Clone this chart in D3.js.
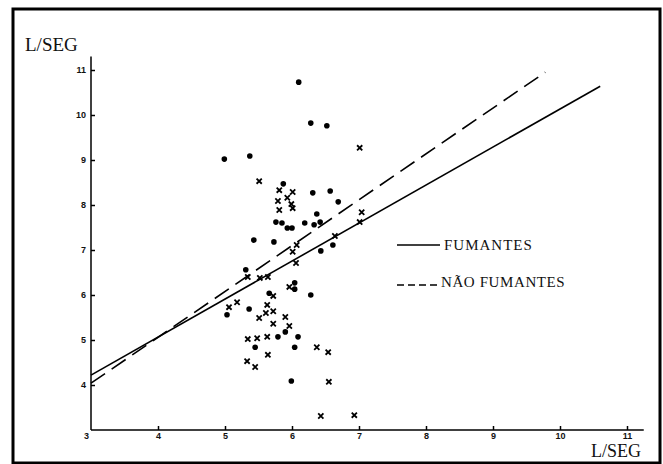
<!DOCTYPE html>
<html lang="pt">
<head>
	<meta charset="UTF-8">
	<title>L/SEG</title>
	<script src="https://d3js.org/d3.v7.min.js"></script>
	<style>
		body { margin: 0; background: #fff; }
		svg text { fill: #111; }
	</style>
</head>
<body>
	<div id="main"></div>
<script>
	// tick labels
	var xTicks = [3, 4, 5, 6, 7, 8, 9, 10, 11];
	var yTicks = [4, 5, 6, 7, 8, 9, 10, 11];

	// filled dots
	var dotX = [6.10, 6.28, 6.52, 4.99, 5.37, 5.87, 6.31, 6.57, 6.69, 6.37, 5.76, 5.85, 5.93, 6.00,
		6.19, 6.33, 6.42, 5.43, 5.73, 6.43, 6.61, 5.31, 5.66, 6.04, 6.04, 6.28, 5.36, 5.03,
		5.90, 5.79, 6.09, 5.45, 6.04, 5.99];
	var dotY = [10.73, 9.82, 9.76, 9.02, 9.09, 8.47, 8.27, 8.31, 8.07, 7.80, 7.62, 7.60, 7.49, 7.49,
		7.60, 7.56, 7.62, 7.22, 7.18, 6.98, 7.11, 6.56, 6.04, 6.13, 6.27, 6.00, 5.69, 5.56,
		5.18, 5.07, 5.07, 4.84, 4.84, 4.09];

	// crosses
	var crossX = [7.01, 5.51, 5.81, 6.01, 5.79, 5.93, 5.99, 6.01, 5.81, 7.04, 7.01, 6.64, 6.07, 6.01,
		6.06, 5.34, 5.52, 5.64, 5.72, 5.96, 5.06, 5.18, 5.63, 5.61, 5.72, 5.51, 5.90, 5.72,
		5.96, 5.34, 5.48, 5.63, 6.37, 6.54, 5.64, 5.33, 5.45, 6.55, 6.43, 6.93];
	var crossY = [9.27, 8.53, 8.33, 8.29, 8.09, 8.16, 8.02, 7.93, 7.89, 7.84, 7.62, 7.31, 7.11, 6.96,
		6.71, 6.40, 6.38, 6.40, 5.98, 6.18, 5.73, 5.84, 5.78, 5.60, 5.64, 5.49, 5.51, 5.36,
		5.31, 5.02, 5.04, 5.07, 4.84, 4.73, 4.67, 4.53, 4.40, 4.07, 3.31, 3.33];

	// regression lines, end points
	var fumantes = [[3, 4.22], [10.6, 10.64]];
	var naoFumantes = [[3, 4.04], [9.78, 10.95]];

	var width = 663, height = 464;

	var svg = d3.select("#main")
		.append("svg")
		.attr("width", width)
		.attr("height", height);

	// frame
	svg.append("rect")
		.attr("x", 13).attr("y", 9)
		.attr("width", 647).attr("height", 454)
		.attr("fill", "none")
		.attr("stroke", "#000")
		.attr("stroke-width", 3);

	var x = d3.scaleLinear().domain([3, 11]).range([91, 627]);
	var y = d3.scaleLinear().domain([3, 11]).range([430, 70]);

	var axisFont = "bold 9px 'Liberation Sans', sans-serif";

	// axes lines
	svg.append("line")
		.attr("x1", x(3)).attr("x2", x(3))
		.attr("y1", y(3)).attr("y2", y(11.3))
		.attr("stroke", "#000").attr("stroke-width", 1.5);
	svg.append("line")
		.attr("x1", x(3)).attr("x2", x(11.25))
		.attr("y1", y(3)).attr("y2", y(3))
		.attr("stroke", "#000").attr("stroke-width", 1.5);

	var yAxis = svg.append("g")
		.attr("transform", "translate(" + x(3) + ",0)")
		.call(d3.axisLeft(y).tickValues(yTicks).tickSizeInner(-4).tickSizeOuter(0).tickPadding(5));
	yAxis.select(".domain").remove();
	yAxis.selectAll("text").style("font", axisFont);
	yAxis.selectAll("line").attr("stroke-width", 1.5);

	var xAxis = svg.append("g")
		.attr("transform", "translate(0," + y(3) + ")")
		.call(d3.axisBottom(x).tickValues(xTicks).tickSizeInner(-4).tickSizeOuter(0).tickPadding(3));
	xAxis.select(".domain").remove();
	xAxis.selectAll("text").style("font", axisFont);
	xAxis.selectAll("line").attr("stroke-width", 1.5);
	xAxis.selectAll(".tick").filter(function(d){ return d == 3; }).select("line").remove();
	xAxis.selectAll(".tick").filter(function(d){ return d == 3; }).select("text").attr("x", -5);

	// axis titles
	svg.append("text")
		.attr("x", 25).attr("y", 51)
		.style("font", "19px 'Liberation Serif', serif")
		.text("L/SEG");
	svg.append("text")
		.attr("x", 591).attr("y", 457)
		.style("font", "18px 'Liberation Serif', serif")
		.text("L/SEG");

	// regression lines
	var line = d3.line().x(function(d){ return x(d[0]); }).y(function(d){ return y(d[1]); });
	svg.append("path")
		.attr("d", line(fumantes))
		.attr("fill", "none").attr("stroke", "#000").attr("stroke-width", 1.6);
	svg.append("path")
		.attr("d", line(naoFumantes))
		.attr("fill", "none").attr("stroke", "#000").attr("stroke-width", 1.6)
		.attr("stroke-dasharray", "17,8");

	// points
	var dots = dotX.map(function(v, i){ return [v, dotY[i]]; });
	svg.selectAll("circle.dot")
		.data(dots)
		.enter()
		.append("circle")
		.attr("class", "dot")
		.attr("cx", function(d){ return x(d[0]); })
		.attr("cy", function(d){ return y(d[1]); })
		.attr("r", 2.8)
		.attr("fill", "#000");

	var crosses = crossX.map(function(v, i){ return [v, crossY[i]]; });
	var cs = 2.6;
	svg.selectAll("path.cross")
		.data(crosses)
		.enter()
		.append("path")
		.attr("class", "cross")
		.attr("d", function(d){
			var cx = x(d[0]), cy = y(d[1]);
			return "M" + (cx - cs) + "," + (cy - cs) + "L" + (cx + cs) + "," + (cy + cs) +
				"M" + (cx - cs) + "," + (cy + cs) + "L" + (cx + cs) + "," + (cy - cs);
		})
		.attr("stroke", "#000")
		.attr("stroke-width", 1.8)
		.attr("fill", "none");

	// legend
	var legendFont = "15px 'Liberation Serif', serif";
	svg.append("line")
		.attr("x1", 397).attr("x2", 440).attr("y1", 245).attr("y2", 245)
		.attr("stroke", "#000").attr("stroke-width", 1.3);
	svg.append("text")
		.attr("x", 444).attr("y", 250)
		.style("font", legendFont).style("letter-spacing", "1px")
		.text("FUMANTES");
	svg.append("line")
		.attr("x1", 397).attr("x2", 440).attr("y1", 285).attr("y2", 285)
		.attr("stroke", "#000").attr("stroke-width", 1.3)
		.attr("stroke-dasharray", "7,4");
	svg.append("text")
		.attr("x", 441).attr("y", 287)
		.style("font", legendFont).style("letter-spacing", "0.6px")
		.text("NÃO FUMANTES");
</script>
</body>
</html>
